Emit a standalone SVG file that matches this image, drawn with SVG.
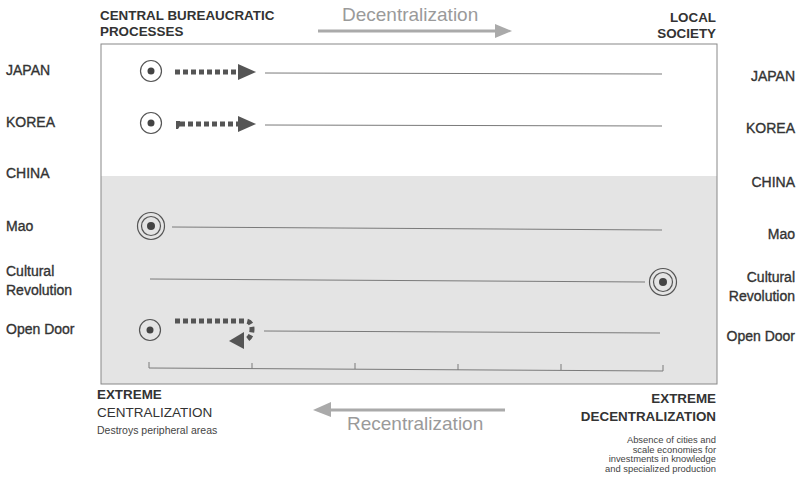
<svg xmlns="http://www.w3.org/2000/svg" width="797" height="488" viewBox="0 0 797 488">
<style>
text{font-family:"Liberation Sans",Arial,sans-serif;fill:#333}
.lab{font-size:14px;stroke:#333;stroke-width:0.35}
.hd{font-size:13.4px;font-weight:bold}
.big{font-size:19px;fill:#9a9a9a}
.sm{font-size:10.5px;fill:#444}
.xs{font-size:9.4px;fill:#444}
.ln{stroke:#7a7a7a;stroke-width:1;fill:none}
.ring{stroke:#555;stroke-width:1.2;fill:none}
.dot{fill:#444}
.dash{stroke:#555;stroke-width:5;stroke-dasharray:5 3;fill:none}
.head{fill:#555}
.garrow{stroke:#aaa;stroke-width:3;fill:none}
.ghead{fill:#aaa}
</style>
<rect width="797" height="488" fill="#fff"/>
<g id="frame">
<rect x="101" y="44" width="616" height="340" fill="#fff"/>
<rect x="101" y="176" width="616" height="208" fill="#e4e4e4"/>
<rect x="101" y="44" width="616" height="340" fill="none" stroke="#888" stroke-width="1"/>
</g>
<g id="header">
<text class="hd" x="100" y="20">CENTRAL BUREAUCRATIC</text>
<text class="hd" x="100" y="36">PROCESSES</text>
<text class="big" x="342" y="21">Decentralization</text>
<text class="hd" x="716" y="22" text-anchor="end">LOCAL</text>
<text class="hd" x="716" y="38" text-anchor="end">SOCIETY</text>
</g>
<g id="left-labels">
<text class="lab" x="6" y="75">JAPAN</text>
<text class="lab" x="6" y="127">KOREA</text>
<text class="lab" x="6" y="178">CHINA</text>
<text class="lab" x="6" y="231">Mao</text>
<text class="lab" x="6" y="276">Cultural</text>
<text class="lab" x="6" y="295">Revolution</text>
<text class="lab" x="6" y="334">Open Door</text>
</g>
<g id="right-labels">
<text class="lab" x="795" y="81" text-anchor="end">JAPAN</text>
<text class="lab" x="795" y="133" text-anchor="end">KOREA</text>
<text class="lab" x="795" y="187" text-anchor="end">CHINA</text>
<text class="lab" x="795" y="239" text-anchor="end">Mao</text>
<text class="lab" x="795" y="282" text-anchor="end">Cultural</text>
<text class="lab" x="795" y="301" text-anchor="end">Revolution</text>
<text class="lab" x="795" y="341" text-anchor="end">Open Door</text>
</g>
<g id="japan">
<circle class="ring" cx="151" cy="71" r="10.5"/>
<circle class="dot" cx="151" cy="71" r="3.5"/>
</g>
<g id="korea">
<circle class="ring" cx="151" cy="123" r="10.5"/>
<circle class="dot" cx="151" cy="123" r="3.5"/>
</g>
<g id="mao">
<circle class="ring" cx="151" cy="226" r="13.5"/>
<circle class="ring" cx="151" cy="226" r="9.5"/>
<circle class="dot" cx="151" cy="226" r="4"/>
</g>
<g id="cultural-revolution">
<circle class="ring" cx="663" cy="282" r="13.5"/>
<circle class="ring" cx="663" cy="282" r="9.5"/>
<circle class="dot" cx="663" cy="282" r="4"/>
</g>
<g id="open-door">
<circle class="ring" cx="150" cy="330" r="10.5"/>
<circle class="dot" cx="150" cy="330" r="3.5"/>
</g>
<g id="connectors">
<line class="ln" x1="265" y1="73" x2="662" y2="74"/>
<line class="ln" x1="265" y1="125" x2="662" y2="126"/>
<line class="ln" x1="172" y1="227" x2="662" y2="230"/>
<line class="ln" x1="150" y1="279" x2="645" y2="282"/>
<line class="ln" x1="264" y1="331" x2="660" y2="333"/>
<line class="dash" x1="175" y1="72" x2="239" y2="72"/>
<polygon class="head" points="238,64 256,72 238,80"/>
<line class="dash" x1="180" y1="124" x2="239" y2="124"/>
<path d="M176 121 h4 v5 l-2 3 h-2 z" class="head"/>
<polygon class="head" points="238,116 256,124 238,132"/>
<path class="dash" d="M175 321 H245 Q252 321 252 329 Q252 337 246 340"/>
<polygon class="head" points="229,341 244,332 244,349"/>
<path class="ln" d="M149 362 V368 L663 371 V365"/>
<line class="ln" x1="252" y1="363" x2="252" y2="369"/>
<line class="ln" x1="355" y1="363" x2="355" y2="369"/>
<line class="ln" x1="458" y1="364" x2="458" y2="370"/>
<line class="ln" x1="561" y1="364" x2="561" y2="370"/>
<line class="garrow" x1="318" y1="31" x2="497" y2="31"/>
<polygon class="ghead" points="495,24 512,31 495,38"/>
<line class="garrow" x1="328" y1="410" x2="505" y2="410"/>
<polygon class="ghead" points="331,402 313,410 331,417"/>
</g>
<g id="footer">
<text class="hd" x="97" y="399">EXTREME</text>
<text x="97" y="417" style="font-size:13.5px">CENTRALIZATION</text>
<text class="sm" x="97" y="434">Destroys peripheral areas</text>
<text class="big" x="347" y="430">Recentralization</text>
<text class="hd" x="716" y="403" text-anchor="end">EXTREME</text>
<text class="hd" x="716" y="421" text-anchor="end">DECENTRALIZATION</text>
<text class="xs" x="716" y="443" text-anchor="end">Absence of cities and</text>
<text class="xs" x="716" y="452.5" text-anchor="end">scale economies for</text>
<text class="xs" x="716" y="462" text-anchor="end">investments in knowledge</text>
<text class="xs" x="716" y="471.5" text-anchor="end">and specialized production</text>
</g>
</svg>
